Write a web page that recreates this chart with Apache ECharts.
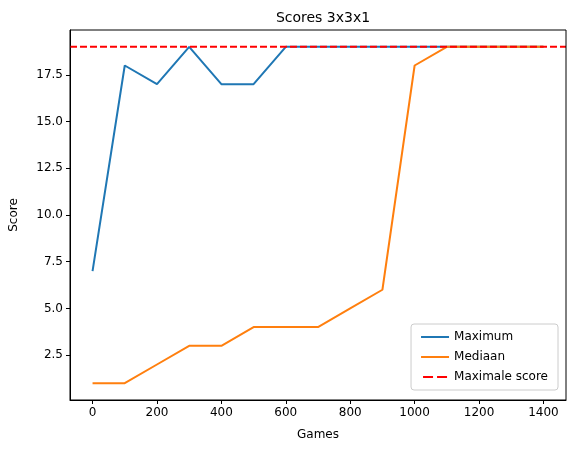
<!DOCTYPE html>
<html>
<head>
<meta charset="utf-8">
<script src="https://cdn.jsdelivr.net/npm/echarts@6/dist/echarts.min.js"></script>
<style>html,body{margin:0;background:#fff}#c{width:576px;height:453px}</style>
</head>
<body>
<div id="c"></div>
<script>
// data
const games = [0, 100, 200, 300, 400, 500, 600, 700, 800, 900, 1000, 1100, 1200, 1300, 1400];
const maximum = [7, 18, 17, 19, 17, 17, 19, 19, 19, 19, 19, 19, 19, 19, 19];
const mediaan = [1, 1, 2, 3, 3, 4, 4, 4, 5, 6, 18, 19, 19, 19, 19];
const maxScore = 19;
const xTicks = [0, 200, 400, 600, 800, 1000, 1200, 1400];
const yTicks = [2.5, 5, 7.5, 10, 12.5, 15, 17.5];

const font = 'DejaVu Sans';
const chart = echarts.init(document.getElementById('c'));
const pair = ys => games.map((g, i) => [g, ys[i]]);

chart.setOption({
  animation: false,
  textStyle: { fontFamily: font },
  title: {
    text: 'Scores 3x3x1', left: 318, top: 6, textAlign: 'center',
    textStyle: { fontFamily: font, fontSize: 14, fontWeight: 'normal', color: '#000' }
  },
  grid: { left: 70, right: 10, top: 30, bottom: 53 },
  legend: {
    orient: 'vertical', right: 18, bottom: 63, itemWidth: 28, itemHeight: 2, itemGap: 8,
    padding: [7, 10], borderColor: '#ccc', borderWidth: 1, borderRadius: 3, backgroundColor: '#fff',
    textStyle: { fontFamily: font, fontSize: 12, color: '#000' },
    data: [
      { name: 'Maximum', icon: 'rect' },
      { name: 'Mediaan', icon: 'rect' },
      { name: 'Maximale score', icon: 'path://M0,0H10V2H0ZM14,0H24V2H14Z' }
    ]
  },
  xAxis: {
    type: 'value', min: -70, max: 1470, name: 'Games', nameLocation: 'middle', nameGap: 29,
    nameTextStyle: { fontFamily: font, fontSize: 12, color: '#000' },
    axisLine: { onZero: false, lineStyle: { color: '#000' } },
    axisTick: { show: true, length: 4, lineStyle: { color: '#000' }, customValues: xTicks },
    axisLabel: { color: '#000', fontSize: 12, margin: 7, customValues: xTicks, formatter: v => String(v) },
    splitLine: { show: false }
  },
  yAxis: {
    type: 'value', min: 0.1, max: 19.9, name: 'Score', nameLocation: 'middle', nameGap: 50,
    nameTextStyle: { fontFamily: font, fontSize: 12, color: '#000' },
    axisLine: { show: true, onZero: false, lineStyle: { color: '#000' } },
    axisTick: { show: true, length: 4, lineStyle: { color: '#000' }, customValues: yTicks },
    axisLabel: { color: '#000', fontSize: 12, margin: 7, customValues: yTicks, formatter: v => v.toFixed(1) },
    splitLine: { show: false }
  },
  // top/right frame
  graphic: [{ type: 'rect', shape: { x: 70, y: 30, width: 496, height: 370 }, style: { fill: 'none', stroke: '#000', lineWidth: 1 }, z: 100 }],
  series: [
    { name: 'Maximum', type: 'line', data: pair(maximum), showSymbol: false, color: '#1f77b4', lineStyle: { width: 2 } },
    { name: 'Mediaan', type: 'line', data: pair(mediaan), showSymbol: false, color: '#ff7f0e', lineStyle: { width: 2 } },
    { name: 'Maximale score', type: 'line', data: [[-70, maxScore], [1470, maxScore]], showSymbol: false, color: '#ff0000',
      lineStyle: { width: 2, type: [7, 3] } }
  ]
});
</script>
</body>
</html>
